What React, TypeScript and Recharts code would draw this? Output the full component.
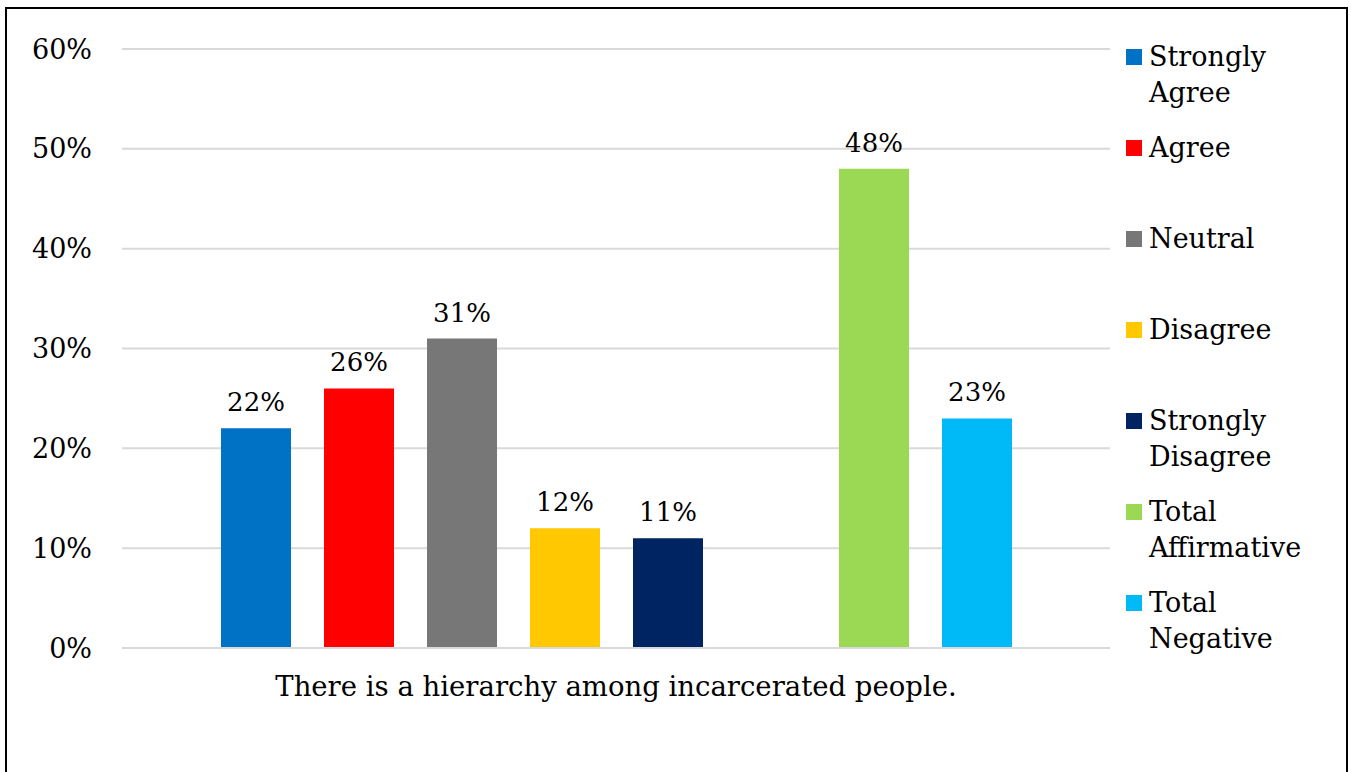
import React from "react";
import { BarChart, Bar, XAxis, YAxis, CartesianGrid, Legend, LabelList } from "recharts";

const categories = ["There is a hierarchy among incarcerated people."];
const seriesKeys = ["sa", "a", "n", "d", "sd", "blank", "ta", "tn"];
const seriesNames = ["Strongly Agree", "Agree", "Neutral", "Disagree", "Strongly Disagree", "", "Total Affirmative", "Total Negative"];
const legendLines = [["Strongly", "Agree"], ["Agree"], ["Neutral"], ["Disagree"], ["Strongly", "Disagree"], [], ["Total", "Affirmative"], ["Total", "Negative"]];
const seriesValues = [22, 26, 31, 12, 11, null, 48, 23];
const seriesColors = ["#0072C6", "#FF0000", "#777777", "#FFC800", "#002361", "#FFFFFF", "#9BD955", "#00B9F7"];
const yTicks = [0, 10, 20, 30, 40, 50, 60];

const data = categories.map((c) => {
  const row: any = { category: c };
  seriesKeys.forEach((k, i) => {
    row[k] = seriesValues[i];
  });
  return row;
});

const FONT = "'DejaVu Serif', serif";

const LegendContent = () => {
  const items = seriesKeys
    .map((k, i) => ({ k, i }))
    .filter(({ k }) => k !== "blank");
  return (
    <div style={{ position: "relative", width: 220, height: 620 }}>
      {items.map(({ k, i }, idx) => (
        <div
          key={k}
          style={{ position: "absolute", left: 0, top: idx * 91, display: "flex", alignItems: "flex-start" }}
        >
          <div
            style={{
              width: 16,
              height: 16,
              background: seriesColors[i],
              marginTop: 10,
              marginRight: 7,
              flex: "none",
            }}
          />
          <div style={{ fontFamily: FONT, fontSize: 27, lineHeight: "36px", color: "#000", textAlign: "left" }}>
            {legendLines[i].map((l, j) => (
              <div key={j}>{l}</div>
            ))}
          </div>
        </div>
      ))}
    </div>
  );
};

export default function App() {
  return (
    <div style={{ position: "absolute", left: 0, top: 0, width: 1351, height: 772, background: "#fff", overflow: "hidden" }}>
      <div
        style={{
          position: "absolute",
          left: 5,
          top: 7,
          width: 1339,
          height: 800,
          border: "2px solid #000",
        }}
      />
      <div style={{ position: "absolute", left: 0, top: 0 }}>
        <BarChart
          width={1351}
          height={772}
          data={data}
          margin={{ top: 49, right: 241, left: 22, bottom: 64 }}
          barSize={70}
          barGap={33}
        >
          <CartesianGrid vertical={false} stroke="#D9D9D9" strokeWidth={2} />
          <XAxis
            dataKey="category"
            height={60}
            tickSize={0}
            tickMargin={28}
            axisLine={{ stroke: "#D9D9D9", strokeWidth: 2 }}
            tick={{ fill: "#000", fontSize: 27.5, fontFamily: FONT }}
          />
          <YAxis
            width={100}
            domain={[0, 60]}
            ticks={yTicks}
            interval={0}
            tickSize={0}
            tickMargin={30}
            axisLine={false}
            tickLine={false}
            tickFormatter={(v: number) => `${v}%`}
            tick={{ fill: "#000", fontSize: 27, fontFamily: FONT }}
          />
          <Legend
            layout="horizontal"
            verticalAlign="middle"
            align="center"
            content={<LegendContent />}
            wrapperStyle={{ position: "absolute", left: 1126, top: 39, width: 220, height: 620 }}
          />
          {seriesKeys.map((k, i) => (
            <Bar
              key={k}
              dataKey={k}
              name={seriesNames[i]}
              fill={seriesColors[i]}
              isAnimationActive={false}
              legendType={k === "blank" ? "none" : "square"}
            >
              {k !== "blank" && (
                <LabelList
                  dataKey={k}
                  position="top"
                  offset={17}
                  formatter={(v: any) => `${v}%`}
                  style={{ fill: "#000", fontSize: 26, fontFamily: FONT }}
                />
              )}
            </Bar>
          ))}
        </BarChart>
      </div>
    </div>
  );
}
